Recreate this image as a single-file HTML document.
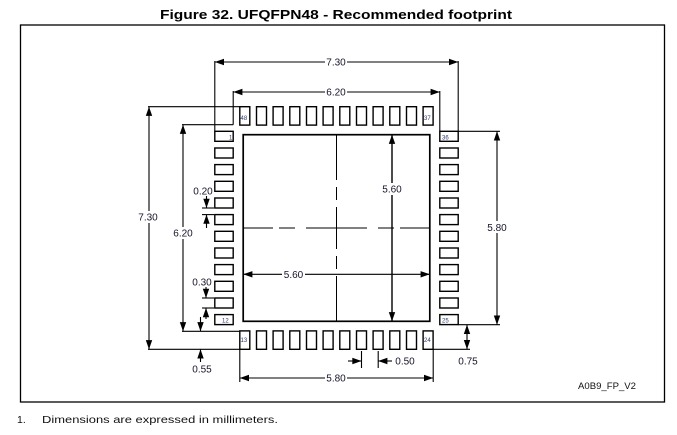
<!DOCTYPE html>
<html><head><meta charset="utf-8"><style>
html,body{margin:0;padding:0;background:#fff;}
svg{display:block;}
text{font-family:"Liberation Sans",Arial,sans-serif;}
.d{font-size:10px;fill:#15152a;}
.p{font-size:6px;fill:#2a3a6a;}
</style></head><body>
<svg width="677" height="435" viewBox="0 0 677 435" xmlns="http://www.w3.org/2000/svg">
<rect x="0" y="0" width="677" height="435" fill="#fff"/>
<text x="160" y="19" font-size="13" font-weight="bold" fill="#000" textLength="352" lengthAdjust="spacingAndGlyphs">Figure 32. UFQFPN48 - Recommended footprint</text>
<rect x="20.5" y="25" width="644" height="377" fill="none" stroke="#000" stroke-width="1.3"/>
<text x="17" y="423" font-size="10.5" fill="#111">1.</text>
<text x="42" y="423" font-size="10.5" fill="#111" textLength="236" lengthAdjust="spacingAndGlyphs">Dimensions are expressed in millimeters.</text>
<text x="578" y="389" font-size="9" fill="#111" textLength="58" lengthAdjust="spacingAndGlyphs">A0B9_FP_V2</text>

<!-- pads -->
<g fill="#fff" stroke="#000" stroke-width="1.4">
<!-- left -->
<rect x="214.8" y="131.3" width="18.4" height="10"/>
<rect x="214.8" y="148" width="18.4" height="10"/>
<rect x="214.8" y="164.6" width="18.4" height="10"/>
<rect x="214.8" y="181.3" width="18.4" height="10"/>
<rect x="214.8" y="198" width="18.4" height="10"/>
<rect x="214.8" y="214.6" width="18.4" height="10"/>
<rect x="214.8" y="231.3" width="18.4" height="10"/>
<rect x="214.8" y="248" width="18.4" height="10"/>
<rect x="214.8" y="264.6" width="18.4" height="10"/>
<rect x="214.8" y="281.3" width="18.4" height="10"/>
<rect x="214.8" y="298" width="18.4" height="10"/>
<rect x="214.8" y="314.6" width="18.4" height="10"/>
<!-- right -->
<rect x="439.8" y="131.3" width="18.4" height="10"/>
<rect x="439.8" y="148" width="18.4" height="10"/>
<rect x="439.8" y="164.6" width="18.4" height="10"/>
<rect x="439.8" y="181.3" width="18.4" height="10"/>
<rect x="439.8" y="198" width="18.4" height="10"/>
<rect x="439.8" y="214.6" width="18.4" height="10"/>
<rect x="439.8" y="231.3" width="18.4" height="10"/>
<rect x="439.8" y="248" width="18.4" height="10"/>
<rect x="439.8" y="264.6" width="18.4" height="10"/>
<rect x="439.8" y="281.3" width="18.4" height="10"/>
<rect x="439.8" y="298" width="18.4" height="10"/>
<rect x="439.8" y="314.6" width="18.4" height="10"/>
<!-- top -->
<rect x="239.8" y="106.7" width="10" height="18.4"/>
<rect x="256.5" y="106.7" width="10" height="18.4"/>
<rect x="273.1" y="106.7" width="10" height="18.4"/>
<rect x="289.8" y="106.7" width="10" height="18.4"/>
<rect x="306.5" y="106.7" width="10" height="18.4"/>
<rect x="323.1" y="106.7" width="10" height="18.4"/>
<rect x="339.8" y="106.7" width="10" height="18.4"/>
<rect x="356.5" y="106.7" width="10" height="18.4"/>
<rect x="373.1" y="106.7" width="10" height="18.4"/>
<rect x="389.8" y="106.7" width="10" height="18.4"/>
<rect x="406.5" y="106.7" width="10" height="18.4"/>
<rect x="423.1" y="106.7" width="10" height="18.4"/>
<!-- bottom -->
<rect x="239.8" y="330.9" width="10" height="18.4"/>
<rect x="256.5" y="330.9" width="10" height="18.4"/>
<rect x="273.1" y="330.9" width="10" height="18.4"/>
<rect x="289.8" y="330.9" width="10" height="18.4"/>
<rect x="306.5" y="330.9" width="10" height="18.4"/>
<rect x="323.1" y="330.9" width="10" height="18.4"/>
<rect x="339.8" y="330.9" width="10" height="18.4"/>
<rect x="356.5" y="330.9" width="10" height="18.4"/>
<rect x="373.1" y="330.9" width="10" height="18.4"/>
<rect x="389.8" y="330.9" width="10" height="18.4"/>
<rect x="406.5" y="330.9" width="10" height="18.4"/>
<rect x="423.1" y="330.9" width="10" height="18.4"/>
<!-- exposed pad -->
<rect x="243.2" y="134.7" width="186.6" height="186.6" fill="none" stroke-width="1.7"/>
</g>

<!-- pin labels -->
<text class="p" x="229" y="139.5">1</text>
<text class="p" x="240.5" y="120">48</text>
<text class="p" x="424" y="120">37</text>
<text class="p" x="442" y="139.5">36</text>
<text class="p" x="222" y="322.5">12</text>
<text class="p" x="442" y="322.5">25</text>
<text class="p" x="240.5" y="342">13</text>
<text class="p" x="424" y="342">24</text>

<!-- center lines -->
<g stroke="#000" stroke-width="1">
<line x1="336.5" y1="134.7" x2="336.5" y2="180"/>
<line x1="336.5" y1="187" x2="336.5" y2="200"/>
<line x1="336.5" y1="207" x2="336.5" y2="249"/>
<line x1="336.5" y1="256" x2="336.5" y2="269"/>
<line x1="336.5" y1="276" x2="336.5" y2="321.3"/>
<line x1="243.2" y1="228" x2="273" y2="228"/>
<line x1="279" y1="228" x2="295" y2="228"/>
<line x1="306" y1="228" x2="367" y2="228"/>
<line x1="378" y1="228" x2="394" y2="228"/>
<line x1="400" y1="228" x2="429.8" y2="228"/>
</g>

<!-- dimension lines -->
<g stroke="#000" stroke-width="1.1" fill="none">
<!-- top 7.30 -->
<line x1="214.8" y1="62" x2="458.2" y2="62"/>
<line x1="214.8" y1="61" x2="214.8" y2="131.3"/>
<line x1="458.2" y1="61" x2="458.2" y2="131.3"/>
<!-- top 6.20 -->
<line x1="233.2" y1="92" x2="439.8" y2="92"/>
<line x1="233.2" y1="91" x2="233.2" y2="124.7"/>
<line x1="439.8" y1="91" x2="439.8" y2="131.3"/>
<!-- left 7.30 -->
<line x1="149" y1="106.7" x2="149" y2="349.3"/>
<line x1="148" y1="106.7" x2="239.8" y2="106.7"/>
<line x1="148" y1="349.3" x2="239.8" y2="349.3"/>
<!-- left 6.20 -->
<line x1="183" y1="124.7" x2="183" y2="331.3"/>
<line x1="182" y1="124.7" x2="233.2" y2="124.7"/>
<line x1="182" y1="331.3" x2="239.8" y2="331.3"/>
<!-- right 5.80 -->
<line x1="497" y1="131.3" x2="497" y2="324.7"/>
<line x1="458.2" y1="131.3" x2="500" y2="131.3"/>
<line x1="458.2" y1="324.7" x2="500" y2="324.7"/>
<!-- bottom 5.80 -->
<line x1="239.8" y1="378" x2="433.2" y2="378"/>
<line x1="239.8" y1="349.3" x2="239.8" y2="382"/>
<line x1="433.2" y1="349.3" x2="433.2" y2="382"/>
<!-- 0.75 -->
<line x1="467" y1="324.7" x2="467" y2="349.3"/>
<line x1="433.2" y1="349.3" x2="470" y2="349.3"/>
<!-- 0.50 -->
<line x1="361.5" y1="351" x2="361.5" y2="368"/>
<line x1="378.2" y1="351" x2="378.2" y2="368"/>
<line x1="348" y1="361" x2="361.5" y2="361"/>
<line x1="378.2" y1="361" x2="392" y2="361"/>
<!-- 0.55 -->
<line x1="200.5" y1="349.3" x2="200.5" y2="362"/>
<line x1="200.5" y1="317" x2="200.5" y2="331.3"/>
<!-- 0.30 -->
<line x1="206" y1="287" x2="206" y2="298"/>
<line x1="202" y1="298" x2="214" y2="298"/>
<line x1="202" y1="308" x2="214" y2="308"/>
<line x1="206" y1="308" x2="206" y2="319"/>
<!-- 0.20 -->
<line x1="206.5" y1="196" x2="206.5" y2="208"/>
<line x1="202" y1="208" x2="214" y2="208"/>
<line x1="202" y1="214.6" x2="214" y2="214.6"/>
<line x1="206.5" y1="214.6" x2="206.5" y2="228"/>
<!-- inner 5.60 -->
<line x1="392" y1="134.7" x2="392" y2="321.3" stroke-width="1.4"/>
<line x1="243.2" y1="274.3" x2="429.8" y2="274.3"/>
</g>

<!-- arrowheads -->
<g fill="#000" stroke="none">
<polygon points="214.8,62 224,58.8 224,65.2"/>
<polygon points="458.2,62 449,58.8 449,65.2"/>
<polygon points="233.2,92 242.4,88.8 242.4,95.2"/>
<polygon points="439.8,92 430.6,88.8 430.6,95.2"/>
<polygon points="149,106.7 145.8,115.9 152.2,115.9"/>
<polygon points="149,349.3 145.8,340.1 152.2,340.1"/>
<polygon points="183,124.7 179.8,133.9 186.2,133.9"/>
<polygon points="183,331.3 179.8,322.1 186.2,322.1"/>
<polygon points="497,131.3 493.8,140.5 500.2,140.5"/>
<polygon points="497,324.7 493.8,315.5 500.2,315.5"/>
<polygon points="239.8,378 249,374.8 249,381.2"/>
<polygon points="433.2,378 424,374.8 424,381.2"/>
<polygon points="467,324.7 463.8,334 470.2,334"/>
<polygon points="467,349.3 463.8,340 470.2,340"/>
<polygon points="361.5,361 352.3,357.8 352.3,364.2"/>
<polygon points="378.2,361 387.4,357.8 387.4,364.2"/>
<polygon points="200.5,349.3 197.3,358.5 203.7,358.5"/>
<polygon points="200.5,331.3 197.3,322.1 203.7,322.1"/>
<polygon points="206,298 202.8,288.8 209.2,288.8"/>
<polygon points="206,308 202.8,317.2 209.2,317.2"/>
<polygon points="206.5,208 203.3,198.8 209.7,198.8"/>
<polygon points="206.5,214.6 203.3,223.8 209.7,223.8"/>
<polygon points="392,134.7 388.8,143.9 395.2,143.9"/>
<polygon points="392,321.3 388.8,312.1 395.2,312.1"/>
<polygon points="243.2,274.3 252.4,271.1 252.4,277.5"/>
<polygon points="429.8,274.3 420.6,271.1 420.6,277.5"/>
</g>

<!-- label backgrounds -->
<g fill="#fff">
<rect x="325" y="56" width="22" height="12"/>
<rect x="325" y="86" width="22" height="12"/>
<rect x="137" y="211" width="23" height="12"/>
<rect x="172" y="227" width="23" height="12"/>
<rect x="486" y="221" width="23" height="12"/>
<rect x="325" y="372" width="22" height="12"/>
<rect x="381" y="183" width="22" height="12"/>
<rect x="282" y="268" width="23" height="12"/>
</g>

<!-- dimension labels -->
<g class="d" text-anchor="middle">
<text x="336" y="65.5">7.30</text>
<text x="336" y="95.5">6.20</text>
<text x="148" y="220.5">7.30</text>
<text x="183" y="236.5">6.20</text>
<text x="497" y="231">5.80</text>
<text x="336" y="381.5">5.80</text>
<text x="392" y="192.5">5.60</text>
<text x="293.5" y="277.8">5.60</text>
<text x="468" y="364.5">0.75</text>
<text x="405" y="364.5">0.50</text>
<text x="202" y="372.5">0.55</text>
<text x="202" y="285.5">0.30</text>
<text x="203" y="194.5">0.20</text>
</g>
</svg>
</body></html>
